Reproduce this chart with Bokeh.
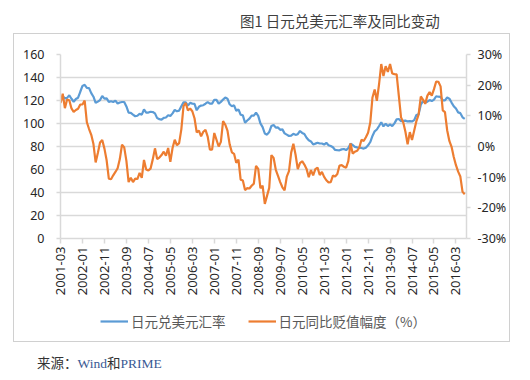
from bokeh.plotting import figure
from bokeh.models import (Range1d, LinearAxis, FixedTicker, Legend, LegendItem, Div)
from bokeh.layouts import column
from bokeh.embed import file_html
from bokeh.resources import INLINE
import math

# ---------------- data ----------------
tick_labels = ["2001-03", "2002-01", "2002-11", "2003-09", "2004-07", "2005-05",
               "2006-03", "2007-01", "2007-11", "2008-09", "2009-07", "2010-05",
               "2011-03", "2012-01", "2012-11", "2013-09", "2014-07", "2015-05",
               "2016-03"]

usd_jpy = [
    121.4, 123.8, 121.8, 122.3, 124.5, 121.5, 118.9, 121.3, 122.4, 127.6,
    132.7, 133.6, 131.0, 130.8, 126.4, 123.3, 118.0, 119.0, 120.4, 123.9,
    121.6, 121.9, 118.8, 119.3, 118.7, 119.9, 117.4, 118.3, 118.7, 118.7,
    114.8, 109.5, 109.2, 107.7, 106.3, 106.7, 108.5, 107.7, 112.2, 109.4,
    109.5, 110.2, 110.0, 108.8, 104.7, 103.8, 103.3, 104.9, 105.2, 107.2,
    106.6, 108.8, 111.9, 110.6, 111.2, 114.9, 118.5, 118.5, 115.5, 117.9,
    117.3, 117.1, 111.5, 114.5, 115.6, 115.9, 117.2, 118.6, 117.3, 117.3,
    120.6, 120.5, 117.3, 118.8, 120.8, 122.6, 121.6, 116.7, 115.0, 115.8,
    111.1, 112.3, 107.6, 107.1, 100.7, 102.6, 104.3, 106.9, 106.9, 109.4,
    106.6, 100.1, 96.9, 91.3, 90.3, 92.6, 97.9, 98.8, 96.4, 96.6,
    94.5, 94.9, 91.4, 90.3, 89.1, 89.5, 91.1, 90.1, 90.7, 93.5,
    91.8, 90.9, 87.6, 85.4, 84.4, 81.8, 82.5, 83.3, 82.6, 82.6,
    81.7, 83.2, 81.1, 80.4, 79.3, 77.0, 76.8, 76.7, 77.5, 77.8,
    76.9, 78.6, 82.5, 81.3, 79.7, 79.3, 79.0, 78.7, 78.2, 79.0,
    81.0, 83.9, 89.2, 93.2, 94.8, 97.8, 101.1, 97.5, 99.7, 97.8,
    99.2, 97.8, 100.1, 103.6, 103.9, 102.1, 102.3, 102.5, 101.8, 102.1,
    101.8, 102.9, 107.4, 108.0, 116.4, 119.4, 118.3, 119.0, 120.4, 119.5,
    120.8, 123.7, 123.3, 123.1, 120.1, 120.1, 122.6, 121.6, 118.2, 115.0,
    113.0, 109.7, 109.0, 105.4, 104.1,
]

yoy_pct = [
    14.2, 17.2, 12.5, 15.3, 15.1, 12.4, 11.3, 11.9, 12.3, 13.7,
    13.7, 15.0, 7.9, 5.7, 3.8, 0.8, -5.2, -2.1, 1.3, 2.1,
    -0.7, -4.5, -10.5, -10.7, -9.4, -8.3, -7.1, -4.1, 0.6, -0.3,
    -4.7, -11.6, -10.2, -11.6, -10.5, -10.6, -8.6, -10.2, -4.4, -7.5,
    -7.8, -7.2, -4.2, -0.6, -4.1, -3.6, -2.8, -1.7, -3.0, -0.5,
    -5.0, -0.5, 2.2, 0.4, 1.1, 5.6, 13.2, 14.2, 11.8, 12.4,
    11.5, 9.2, 4.6, 5.2, 3.3, 4.8, 5.4, 3.2, -1.0, -1.0,
    4.4, 2.2, 0.0, 1.5, 8.3, 7.1, 5.2, 0.7, -1.9, -2.4,
    -5.3, -4.3, -10.8, -11.1, -14.2, -13.6, -13.7, -12.8, -12.1, -6.3,
    -7.3, -13.6, -12.8, -18.7, -16.1, -13.5, -2.8, -3.7, -7.6, -9.6,
    -11.6, -13.3, -14.3, -9.8, -8.0, -2.0, 0.9, -2.7, -7.4, -5.4,
    -4.8, -5.9, -7.3, -10.0, -7.7, -9.4, -7.4, -6.9, -9.3, -8.3,
    -9.9, -11.0, -11.7, -11.6, -9.5, -9.8, -9.0, -6.2, -6.1, -6.6,
    -6.9, -4.8, 1.0, -2.3, -1.7, -1.4, -0.4, 2.2, 1.8, 3.0,
    4.5, 7.8, 16.0, 18.6, 14.9, 20.3, 26.9, 23.0, 26.2, 24.3,
    26.9, 23.8, 23.6, 23.5, 16.5, 9.5, 7.9, 4.8, 0.7, 4.7,
    2.1, 5.2, 8.3, 10.4, 16.3, 15.3, 13.9, 16.6, 17.7, 16.6,
    18.7, 21.2, 21.1, 19.6, 11.8, 11.2, 5.3, 1.8, -0.1, -3.4,
    -6.1, -8.2, -9.8, -14.8, -15.6,
]

left_ticks = [0, 20, 40, 60, 80, 100, 120, 140, 160]
right_ticks = [-30, -20, -10, 0, 10, 20, 30]

title_text = "图1 日元兑美元汇率及同比变动"
series_names = ["日元兑美元汇率", "日元同比贬值幅度（%）"]
source_parts = ["来源：", "Wind", "和", "PRIME"]

BLUE = "#5B9BD5"
ORANGE = "#ED7D31"
GRID = "#d9d9d9"
TXT = "#262626"
NUM_FONT = "Noto Sans"
CJK_FONT = "Noto Sans CJK SC"

months = list(range(len(usd_jpy)))
tick_pos = [10 * k for k in range(len(tick_labels))]

# ---------------- main chart ----------------
p = figure(width=495, height=267, x_range=Range1d(0, 184.8), y_range=Range1d(0, 160),
           output_backend="svg", toolbar_location=None,
           min_border_left=46, min_border_right=43, min_border_top=20,
           min_border_bottom=63, x_axis_location=None, y_axis_location=None)
p.outline_line_color = None
p.background_fill_color = "white"
p.border_fill_color = "white"
p.extra_y_ranges = {"pct": Range1d(-30, 30)}

ly = LinearAxis(ticker=FixedTicker(ticks=left_ticks))
ry = LinearAxis(y_range_name="pct", ticker=FixedTicker(ticks=right_ticks),
                major_label_overrides={t: f"{t}%" for t in right_ticks})
bx = LinearAxis(ticker=FixedTicker(ticks=tick_pos),
                major_label_overrides={t: l for t, l in zip(tick_pos, tick_labels)},
                major_label_orientation=math.pi / 2)

for ax in (ly, ry, bx):
    ax.axis_line_color = GRID
    ax.axis_line_width = 1.5
    ax.major_tick_line_color = GRID
    ax.major_tick_line_width = 1.5
    ax.major_tick_in = 0
    ax.major_tick_out = 4
    ax.minor_tick_line_color = None
    ax.major_label_text_font = NUM_FONT
    ax.major_label_text_color = TXT
ly.major_label_text_font_size = "12.5px"
ry.major_label_text_font_size = "12.5px"
bx.major_label_text_font_size = "13px"
ly.major_label_standoff = 12
ry.major_label_standoff = 7
bx.major_label_standoff = 3
bx.major_tick_out = 5

p.add_layout(ly, "left")
p.add_layout(ry, "right")
p.add_layout(bx, "below")

p.ygrid.ticker = FixedTicker(ticks=left_ticks)
p.ygrid.grid_line_color = GRID
p.ygrid.grid_line_width = 1.5
p.xgrid.visible = False

p.line(months, usd_jpy, line_color=BLUE, line_width=2.2)
p.line(months, yoy_pct, line_color=ORANGE, line_width=2.2, y_range_name="pct")

# ---------------- legend strip ----------------
q = figure(width=495, height=40, x_range=Range1d(0, 1), y_range=Range1d(0, 1),
           output_backend="svg", toolbar_location=None,
           min_border=0, x_axis_location=None, y_axis_location=None)
q.outline_line_color = None
q.grid.visible = False
q.background_fill_color = "white"
q.border_fill_color = "white"
# legend-only renderers: placed outside the visible range
g1 = q.line([-5, -4], [-5, -4], line_color=BLUE, line_width=2.2)
g2 = q.line([-5, -4], [-5, -4], line_color=ORANGE, line_width=2.2)
legend = Legend(items=[LegendItem(label=series_names[0], renderers=[g1]),
                       LegendItem(label=series_names[1], renderers=[g2])],
                orientation="horizontal", location="center",
                label_text_font=CJK_FONT, label_text_font_size="13.5px",
                label_text_color="#595959", glyph_width=28, spacing=22,
                label_standoff=3, border_line_color=None,
                background_fill_alpha=0, padding=0, margin=0)
q.add_layout(legend)

# ---------------- title & source ----------------
title_div = Div(
    text=(f'<div style="font-family:\'{CJK_FONT}\';font-size:14.5px;color:#404040;'
          f'line-height:25px;padding-left:232px;white-space:nowrap;">{title_text}</div>'),
    width=514, height=25, margin=0)

src_html = (
    f'<div style="padding-left:29px;padding-top:12px;line-height:16px;font-size:13.5px;'
    f'white-space:nowrap;">'
    f'<span style="font-family:\'{CJK_FONT}\';color:#333333;">{source_parts[0]}</span>'
    f'<span style="font-family:\'Liberation Serif\';color:#3a5a94;">{source_parts[1]}</span>'
    f'<span style="font-family:\'{CJK_FONT}\';color:#333333;">{source_parts[2]}</span>'
    f'<span style="font-family:\'Liberation Serif\';color:#3a5a94;">{source_parts[3]}</span>'
    f'</div>')
source_div = Div(text=src_html, width=514, height=28, margin=0)

boxed = column(p, q, margin=(0, 0, 0, 5), spacing=0,
               styles={"border": "1.5px solid #d0d0d0"})

page = column(title_div, boxed, source_div, spacing=0, margin=(8, 0, 0, 8))

open("out.html", "w").write(file_html(page, INLINE))
